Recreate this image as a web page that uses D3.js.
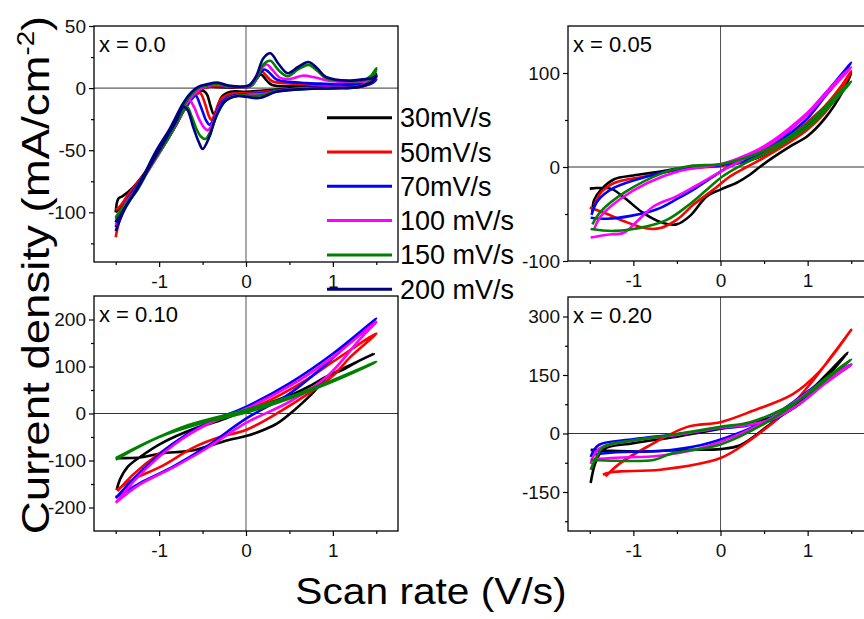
<!DOCTYPE html>
<html>
<head>
<meta charset="utf-8">
<script src="https://cdn.jsdelivr.net/npm/d3@7"></script>
<style>
  body { margin: 0; background: #fff; }
  text { font-family: "Liberation Sans", Arial, sans-serif; }
</style>
</head>
<body>
<div id="root"></div>
<script>
// legend / series
var rates = ["30mV/s", "50mV/s", "70mV/s", "100 mV/s", "150 mV/s", "200 mV/s"];
var colors = ["#000000", "#ff0000", "#0000ff", "#ff00ff", "#008000", "#000080"];
var panelLabels = ["x = 0.0", "x = 0.05", "x = 0.10", "x = 0.20"];

// ticks
var xTicks = [-1, 0, 1];
var xMinor = [-1.5, -0.5, 0.5, 1.5];
var yTicks00 = [-100, -50, 0, 50], yMinor00 = [-125, -75, -25, 25];
var yTicks05 = [-100, 0, 100], yMinor05 = [-50, 50];
var yTicks10 = [-200, -100, 0, 100, 200], yMinor10 = [-150, -50, 50, 150];
var yTicks20 = [-150, 0, 150, 300], yMinor20 = [-225, -75, 75, 225];

// x = 0.0  (potential V, current mA/cm2)
var x00_30 = [[-1.5,-100],[-1.47,-89],[-1.42,-87],[-1.3,-80],[-1.1,-62],[-0.9,-40],[-0.75,-22],[-0.62,-8],[-0.5,-2],
  [-0.45,-5],[-0.41,-14],[-0.37,-21],[-0.33,-16],[-0.28,-7],[-0.18,-3],[0,-3],[0.2,-2],[0.5,-0.5],[1.0,0],[1.3,1],[1.45,5],[1.5,11],
  [1.45,6],[1.3,2],[1.0,1.5],[0.6,1.5],[0.3,2.5],[0.24,6],[0.17,11],[0.12,7],[0.06,2],[0,0.5],[-0.2,0.5],[-0.35,1],[-0.45,1],
  [-0.55,-2],[-0.65,-9],[-0.8,-29],[-1.0,-52],[-1.2,-72],[-1.35,-88],[-1.45,-96],[-1.5,-100]];
var x00_50 = [[-1.5,-120],[-1.45,-105],[-1.35,-90],[-1.25,-78],[-1.1,-62],[-0.9,-40],[-0.75,-22],[-0.6,-7],[-0.53,-4],
  [-0.47,-13],[-0.43,-22],[-0.4,-25.5],[-0.36,-21],[-0.3,-10],[-0.2,-5],[0,-4],[0.2,-3],[0.5,-1],[1.0,0],[1.3,1],[1.45,4],[1.5,9],
  [1.45,5],[1.3,2.5],[1.0,2.5],[0.7,3],[0.45,4],[0.3,5.5],[0.22,11],[0.18,13.5],[0.13,10],[0.07,3],[0,1],[-0.2,1],[-0.35,2],[-0.45,0.5],
  [-0.55,-1],[-0.65,-9],[-0.8,-29],[-1.0,-52],[-1.2,-72],[-1.35,-85],[-1.45,-95],[-1.5,-98]];
var x00_70 = [[-1.5,-112],[-1.42,-98],[-1.3,-84],[-1.1,-62],[-0.9,-40],[-0.75,-22],[-0.62,-8],[-0.58,-6],
  [-0.52,-15],[-0.46,-26],[-0.42,-29.5],[-0.37,-25],[-0.3,-13],[-0.2,-7],[0,-5],[0.2,-4],[0.4,-1.5],[0.7,0],[1.0,0.5],[1.3,1.5],[1.45,4],[1.5,7],
  [1.42,4],[1.2,3],[0.9,3.5],[0.7,4],[0.5,5],[0.35,7],[0.26,13],[0.21,15],[0.15,11],[0.08,3],[0,1],[-0.2,1.5],[-0.35,3],[-0.47,1],
  [-0.55,-2],[-0.65,-9],[-0.8,-29],[-1.0,-52],[-1.2,-73],[-1.35,-88],[-1.45,-100],[-1.5,-108]];
var x00_100 = [[-1.5,-110],[-1.4,-94],[-1.25,-80],[-1.1,-64],[-0.9,-41],[-0.75,-23],[-0.65,-10],
  [-0.6,-15],[-0.54,-25],[-0.48,-32],[-0.44,-34],[-0.38,-28],[-0.3,-15],[-0.2,-8],[0,-5.5],[0.2,-4.5],[0.4,-2],[0.7,0],[1.0,0.5],[1.3,1.5],[1.45,5],[1.5,9],
  [1.42,6],[1.2,5],[0.95,6],[0.8,8.5],[0.65,10],[0.52,7.5],[0.4,8],[0.3,15],[0.24,19],[0.18,16],[0.1,5],[0.03,1],[-0.2,1.5],[-0.35,3],[-0.47,1],
  [-0.55,-2],[-0.65,-9],[-0.8,-29],[-1.0,-52],[-1.2,-74],[-1.35,-90],[-1.45,-100],[-1.5,-106]];
var x00_150 = [[-1.5,-105],[-1.4,-95],[-1.25,-82],[-1.1,-63],[-0.9,-41],[-0.78,-26],[-0.68,-15],
  [-0.63,-22],[-0.57,-33],[-0.52,-39],[-0.47,-41],[-0.41,-35],[-0.33,-21],[-0.23,-10],[-0.1,-6],[0,-6],[0.15,-6],[0.35,-2.5],[0.6,-1],[1.0,0],[1.3,1],[1.45,7],[1.5,16],
  [1.44,10],[1.34,6],[1.2,5.5],[0.92,8],[0.82,14],[0.72,18.7],[0.6,15],[0.48,9.5],[0.38,14],[0.28,22],[0.2,19],[0.12,8],[0.05,2],[0,1],[-0.2,1.5],[-0.33,3.5],[-0.45,2],
  [-0.55,0],[-0.65,-7],[-0.78,-23],[-0.9,-39],[-1.1,-62],[-1.3,-85],[-1.45,-99],[-1.5,-104]];
var x00_200 = [[-1.5,-115],[-1.4,-98],[-1.25,-81],[-1.1,-62],[-0.9,-38],[-0.8,-26],[-0.72,-15],
  [-0.67,-18],[-0.61,-31],[-0.54,-44],[-0.5,-49],[-0.42,-39],[-0.35,-24],[-0.25,-11],[-0.11,-6.5],[0,-7],[0.15,-8],[0.35,-3],[0.6,-1],[1.0,0],[1.3,1],[1.45,5],[1.5,10],
  [1.45,8],[1.34,7],[1.19,6],[0.92,9],[0.82,16],[0.72,21],[0.6,17],[0.48,12],[0.38,19],[0.28,28],[0.2,24],[0.12,10],[0.05,3],[0,1.5],[-0.2,2],[-0.33,4.5],[-0.45,3],
  [-0.55,1],[-0.65,-5],[-0.73,-13],[-0.88,-33],[-1.03,-50],[-1.25,-80],[-1.4,-97],[-1.5,-108]];

// x = 0.05
var x05_30 = [[-1.5,-23],[-1.26,-23],[-1.1,-33],[-0.9,-48],[-0.73,-57],[-0.6,-61],[-0.5,-61],[-0.35,-52],[-0.155,-31],[0,-24],[0.2,-16],[0.34,-8],[0.45,0],[0.6,10],[0.8,22],[1.0,33],[1.2,52],[1.4,80],[1.5,100],
  [1.4,85],[1.2,62],[1.0,45],[0.8,30],[0.6,18],[0.4,9],[0.2,4],[0,2],[-0.3,0],[-0.5,-2],[-0.77,-6],[-1.0,-9],[-1.22,-13],[-1.37,-24],[-1.45,-35],[-1.47,-48]];
var x05_50 = [[-1.5,-43],[-1.3,-50],[-1.1,-58],[-0.84,-65.5],[-0.69,-65],[-0.5,-56],[-0.31,-40],[-0.08,-24],[0.11,-10],[0.3,0],[0.5,10],[0.75,24],[1.0,40],[1.2,58],[1.4,85],[1.5,102],
  [1.4,88],[1.2,65],[1.0,48],[0.8,33],[0.6,20],[0.4,11],[0.2,5],[0,1],[-0.46,-2.4],[-0.84,-9.6],[-1.22,-17],[-1.37,-27],[-1.45,-41]];
var x05_70 = [[-1.49,-54],[-1.3,-55],[-1.03,-52],[-0.73,-45],[-0.5,-34],[-0.31,-24],[-0.08,-10],[0.07,-1],[0.3,8],[0.55,20],[0.8,36],[1.0,52],[1.2,75],[1.4,98],[1.5,111],
  [1.4,100],[1.2,78],[1.0,57],[0.8,40],[0.6,25],[0.4,15],[0.2,7],[0,2],[-0.3,0],[-0.46,-2],[-0.84,-10],[-1.22,-22],[-1.41,-36],[-1.48,-51]];
var x05_100 = [[-1.49,-75],[-1.3,-72],[-1.11,-70],[-0.96,-58],[-0.77,-42],[-0.5,-31],[-0.3,-21],[0,-5],[0.3,10],[0.6,26],[0.8,40],[1.0,56],[1.2,76],[1.4,96],[1.5,106],
  [1.4,98],[1.2,78],[1.0,58],[0.8,42],[0.6,28],[0.4,17],[0.2,9],[0,3],[-0.46,-4],[-0.84,-17],[-1.15,-34],[-1.37,-52],[-1.45,-66]];
var x05_150 = [[-1.49,-66],[-1.22,-68],[-0.84,-63],[-0.61,-56],[-0.38,-41.5],[-0.155,-24],[0.03,-9.6],[0.3,5],[0.6,18],[0.8,30],[1.0,42],[1.2,60],[1.4,80],[1.5,91],
  [1.4,83],[1.2,64],[1.0,46],[0.8,33],[0.6,22],[0.3,10],[0,3],[-0.35,1],[-0.65,-6],[-1.1,-27],[-1.37,-47],[-1.47,-61]];

// x = 0.10
var x10_30 = [[-1.49,-95],[-1.2,-93],[-0.98,-85],[-0.6,-78],[-0.21,-57],[0,-48],[0.2,-35],[0.36,-21],[0.555,7],[0.75,40],[0.94,78],[1.2,103],[1.47,127],
  [1.3,112],[1.1,92],[0.94,80],[0.75,60],[0.555,42],[0.3,25],[0,7],[-0.3,-15],[-0.59,-32],[-0.98,-64],[-1.2,-90],[-1.36,-113],[-1.45,-140],[-1.49,-163]];
var x10_50 = [[-1.49,-163],[-1.3,-140],[-0.98,-113],[-0.59,-71],[-0.3,-50],[0,-35],[0.4,5],[0.7,40],[1.0,80],[1.2,120],[1.5,170],
  [1.2,135],[1.0,110],[0.7,72],[0.4,40],[0.2,22],[0,10],[-0.5,-28],[-1.0,-85],[-1.3,-130],[-1.48,-165]];
var x10_70 = [[-1.5,-180],[-1.23,-127],[-0.84,-64],[-0.46,-21],[0,14],[0.5,64],[1.0,127],[1.5,202],
  [1.3,170],[1.0,118],[0.5,42],[0,-11],[-0.46,-71],[-0.84,-113],[-1.23,-149],[-1.5,-178]];
var x10_100 = [[-1.5,-190],[-1.23,-132],[-0.84,-68],[-0.46,-24],[0,10],[0.5,58],[1.0,120],[1.5,195],
  [1.32,160],[0.94,80],[0.5,25],[0,-20],[-0.46,-75],[-0.84,-115],[-1.23,-152],[-1.5,-190]];
var x10_150 = [[-1.5,-95],[-1.17,-64],[-0.67,-25],[0,8],[0.555,39],[1.13,81],[1.5,110],
  [1.1,76],[0.5,32],[0,2],[-0.5,-20],[-1.0,-50],[-1.5,-98]];

// x = 0.20
var x20_30 = [[-1.49,-127],[-1.43,-72],[-1.34,-40],[-1.0,-25],[-0.5,-8],[0,12],[0.4,30],[0.8,60],[1.1,115],[1.3,165],[1.46,207],
  [1.22,152],[0.91,84],[0.53,17],[0.225,-30],[0,-40],[-0.38,-42],[-0.96,-46],[-1.49,-42]];
var x20_50 = [[-1.32,-110],[-1.15,-76],[-0.84,-34],[-0.38,17],[0,29],[0.38,59],[0.83,101],[1.14,160],[1.5,266],
  [1.29,203],[1.03,127],[0.72,51],[0.34,-17],[0,-63],[-0.69,-93],[-1.15,-97],[-1.27,-100],[-1.35,-105]];
var x20_70 = [[-1.49,-60],[-1.4,-30],[-1.0,-15],[-0.5,-2],[0,13],[0.3,20],[0.6,35],[0.9,75],[1.2,130],[1.5,177],
  [1.22,143],[0.91,93],[0.53,34],[0.15,-4],[-0.23,-30],[-0.7,-45],[-1.2,-48],[-1.49,-55]];
var x20_100 = [[-1.49,-78],[-1.4,-40],[-1.0,-18],[-0.5,-4],[0,15],[0.3,22],[0.6,37],[0.9,75],[1.2,128],[1.5,178],
  [1.22,140],[0.91,90],[0.53,32],[0.15,-8],[-0.23,-38],[-0.7,-57],[-1.2,-62],[-1.49,-66]];
var x20_150 = [[-1.49,-93],[-1.43,-63],[-1.34,-34],[-1.0,-18],[-0.57,-4],[0,17],[0.34,29],[0.72,63],[1.0,100],[1.25,145],[1.5,190],
  [1.2,140],[0.9,85],[0.5,25],[0,-28],[-0.57,-52],[-0.77,-68],[-1.2,-70],[-1.49,-68]];

// layout of the four panels
var panels = [
  {label: panelLabels[0], left: 94,  top: 26,  w: 304, h: 236, ydom: [-140, 50],  yt: yTicks00, ym: yMinor00,
   series: [x00_30, x00_50, x00_70, x00_100, x00_150, x00_200]},
  {label: panelLabels[1], left: 568, top: 26,  w: 305, h: 235, ydom: [-100, 150], yt: yTicks05, ym: yMinor05,
   series: [x05_30, x05_50, x05_70, x05_100, x05_150]},
  {label: panelLabels[2], left: 94,  top: 296, w: 304, h: 235, ydom: [-250, 250], yt: yTicks10, ym: yMinor10,
   series: [x10_30, x10_50, x10_70, x10_100, x10_150]},
  {label: panelLabels[3], left: 568, top: 297, w: 305, h: 234, ydom: [-250, 350], yt: yTicks20, ym: yMinor20,
   series: [x20_30, x20_50, x20_70, x20_100, x20_150]}
];

// plain hyphen minus, as in the original
var fmt = function (d) { return String(d); };

var svg = d3.select("#root")
            .append("svg")
            .attr("width", 864)
            .attr("height", 619);

svg.append("rect").attr("width", 864).attr("height", 619).attr("fill", "#fff");

panels.forEach(function (p) {
  var g = svg.append("g")
    .attr("transform", "translate(" + p.left + "," + p.top + ")");

  var x = d3.scaleLinear().domain([-1.75, 1.75]).range([0, p.w]);
  var y = d3.scaleLinear().domain(p.ydom).range([p.h, 0]);

  // zero lines
  g.append("line")
    .attr("x1", 0).attr("x2", p.w)
    .attr("y1", y(0)).attr("y2", y(0))
    .attr("stroke", "#333").attr("stroke-width", 1);
  g.append("line")
    .attr("x1", x(0)).attr("x2", x(0))
    .attr("y1", 0).attr("y2", p.h)
    .attr("stroke", "#555").attr("stroke-width", 1);

  // curves
  var line = d3.line()
    .x(function (d) { return x(d[0]); })
    .y(function (d) { return y(d[1]); })
    .curve(d3.curveCatmullRom.alpha(0.5));

  p.series.forEach(function (s, i) {
    g.append("path")
      .attr("d", line(s))
      .attr("fill", "none")
      .attr("stroke", colors[i])
      .attr("stroke-width", 2.6)
      .attr("stroke-linejoin", "round");
  });

  // frame
  g.append("rect")
    .attr("width", p.w).attr("height", p.h)
    .attr("fill", "none").attr("stroke", "#000").attr("stroke-width", 1.3);

  // axes
  var xa = g.append("g").attr("transform", "translate(0," + p.h + ")");
  xa.call(d3.axisBottom(x).tickValues(xTicks).tickFormat(fmt).tickSize(5).tickSizeOuter(0).tickPadding(8));
  xa.append("g").call(d3.axisBottom(x).tickValues(xMinor).tickSize(3).tickSizeOuter(0).tickFormat(""));

  var ya = g.append("g");
  ya.call(d3.axisLeft(y).tickValues(p.yt).tickFormat(fmt).tickSize(5).tickSizeOuter(0).tickPadding(3));
  ya.append("g").call(d3.axisLeft(y).tickValues(p.ym).tickSize(3).tickSizeOuter(0).tickFormat(""));

  g.selectAll(".domain").remove();
  g.selectAll(".tick line").attr("stroke", "#000").attr("stroke-width", 1.2);
  g.selectAll(".tick text")
    .attr("fill", "#111")
    .style("font-size", "19px")
    .style("font-family", '"Liberation Sans", Arial, sans-serif');

  g.append("text")
    .attr("x", 5).attr("y", 26)
    .style("font-size", "22px")
    .text(p.label);
});

// legend
var leg = svg.append("g");
rates.forEach(function (r, i) {
  var yy = 117.7 + i * 34.3;
  leg.append("line")
    .attr("x1", 327).attr("x2", 392)
    .attr("y1", yy).attr("y2", yy)
    .attr("stroke", colors[i]).attr("stroke-width", 3);
  leg.append("text")
    .attr("x", 400).attr("y", yy + 9.5)
    .style("font-size", "27px")
    .text(r);
});

// axis titles
svg.append("text")
  .attr("transform", "translate(431,604) scale(1.13,1)")
  .attr("text-anchor", "middle")
  .style("font-size", "36px")
  .text("Scan rate (V/s)");

var yt = svg.append("text")
  .attr("transform", "translate(49,275) rotate(-90) scale(1.2,1)")
  .attr("text-anchor", "middle")
  .style("font-size", "38px");
yt.append("tspan").text("Current density (mA/cm");
yt.append("tspan").attr("dy", -15).style("font-size", "23px").text("-2");
yt.append("tspan").attr("dy", 15).text(")");
</script>
</body>
</html>
